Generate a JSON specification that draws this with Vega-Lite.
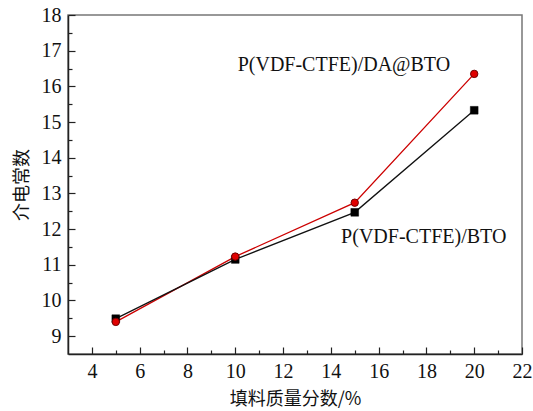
{
  "$schema": "https://vega.github.io/schema/vega-lite/v6.json",
  "width": 454,
  "height": 339,
  "autosize": {"type": "none"},
  "padding": {"left": 68, "top": 15, "right": 11, "bottom": 57},
  "background": "white",
  "config": {
    "view": {"stroke": "#777", "strokeWidth": 1.5},
    "axis": {
      "domainColor": "#222",
      "domainWidth": 1.5,
      "tickColor": "#222",
      "tickWidth": 1.2,
      "grid": false,
      "labelFont": "Liberation Serif",
      "labelFontSize": 20,
      "labelColor": "#111",
      "labelOverlap": false,
      "titleFont": "Noto Sans CJK SC",
      "titleFontSize": 18,
      "titleFontWeight": "normal",
      "titleColor": "#111"
    }
  },
  "datasets": {
    "pts": [
      {"x": 5, "y": 9.49, "s": "BTO"},
      {"x": 10, "y": 11.15, "s": "BTO"},
      {"x": 15, "y": 12.47, "s": "BTO"},
      {"x": 20, "y": 15.33, "s": "BTO"},
      {"x": 5, "y": 9.40, "s": "DA"},
      {"x": 10, "y": 11.23, "s": "DA"},
      {"x": 15, "y": 12.74, "s": "DA"},
      {"x": 20, "y": 16.35, "s": "DA"}
    ],
    "labels": [
      {"x": 10.1, "y": 16.6, "t": "P(VDF-CTFE)/DA@BTO"},
      {"x": 14.43, "y": 11.79, "t": "P(VDF-CTFE)/BTO"}
    ]
  },
  "layer": [
    {
      "data": {"name": "pts"},
      "transform": [{"filter": "datum.s == 'DA'"}],
      "mark": {"type": "line", "color": "#cc0000", "strokeWidth": 1.3},
      "encoding": {
        "x": {
          "field": "x", "type": "quantitative",
          "scale": {"domain": [3, 22], "nice": false, "zero": false},
          "axis": {
            "title": "填料质量分数/%",
            "values": [4,5,6,7,8,9,10,11,12,13,14,15,16,17,18,19,20,21,22],
            "tickCount": 100,
            "labelExpr": "datum.value % 2 ? '' : format(datum.value, 'd')",
            "tickSize": {"expr": "datum.value % 2 ? -4 : -7"},
            "labelPadding": 14,
            "titlePadding": 6,
            "labelOverlap": false,
            "labelFlush": false
          }
        },
        "y": {
          "field": "y", "type": "quantitative",
          "scale": {"domain": [8.5, 18], "nice": false, "zero": false},
          "axis": {
            "title": "介电常数",
            "values": [9,9.5,10,10.5,11,11.5,12,12.5,13,13.5,14,14.5,15,15.5,16,16.5,17,17.5,18],
            "tickCount": 100,
            "labelExpr": "(datum.value * 2) % 2 == 1 ? '' : format(datum.value, 'd')",
            "tickSize": {"expr": "(datum.value * 2) % 2 == 1 ? -4 : -7"},
            "labelPadding": 14,
            "titlePadding": 10,
            "labelOverlap": false,
            "labelFlush": false
          }
        }
      }
    },
    {
      "data": {"name": "pts"},
      "transform": [{"filter": "datum.s == 'BTO'"}],
      "mark": {"type": "line", "color": "#111", "strokeWidth": 1.3},
      "encoding": {
        "x": {"field": "x", "type": "quantitative"},
        "y": {"field": "y", "type": "quantitative"}
      }
    },
    {
      "data": {"name": "pts"},
      "transform": [{"filter": "datum.s == 'BTO'"}],
      "mark": {"type": "point", "shape": "square", "filled": true, "fill": "#000", "stroke": "#000", "strokeWidth": 0.5, "opacity": 1, "size": 60},
      "encoding": {
        "x": {"field": "x", "type": "quantitative"},
        "y": {"field": "y", "type": "quantitative"}
      }
    },
    {
      "data": {"name": "pts"},
      "transform": [{"filter": "datum.s == 'DA'"}],
      "mark": {"type": "point", "shape": "circle", "filled": true, "fill": "#e00000", "stroke": "#700000", "strokeWidth": 1, "opacity": 1, "size": 55},
      "encoding": {
        "x": {"field": "x", "type": "quantitative"},
        "y": {"field": "y", "type": "quantitative"}
      }
    },
    {
      "data": {"name": "labels"},
      "mark": {"type": "text", "align": "left", "baseline": "middle", "fontSize": 20, "font": "Liberation Serif", "color": "#111"},
      "encoding": {
        "x": {"field": "x", "type": "quantitative"},
        "y": {"field": "y", "type": "quantitative"},
        "text": {"field": "t"}
      }
    }
  ]
}
